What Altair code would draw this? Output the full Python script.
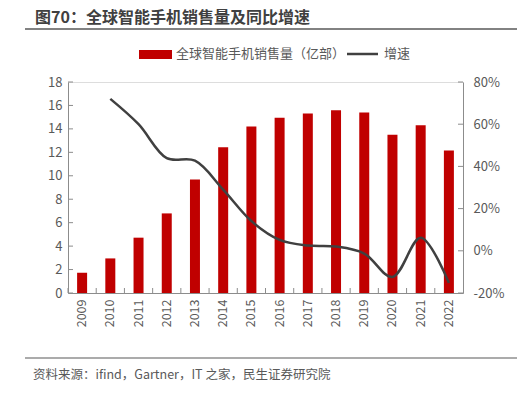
import altair as alt
import pandas as pd

years = [str(y) for y in range(2009, 2023)]
sales = [1.73, 2.95, 4.72, 6.79, 9.69, 12.44, 14.2, 14.95, 15.32, 15.6, 15.4, 13.49, 14.32, 12.15]
growth_years = [str(y) for y in range(2010, 2023)]
growth = [0.72, 0.60, 0.439, 0.427, 0.29, 0.141, 0.052, 0.025, 0.02, -0.013, -0.124, 0.062, -0.152]

left_ticks = [0, 2, 4, 6, 8, 10, 12, 14, 16, 18]
right_ticks = [-0.2, 0, 0.2, 0.4, 0.6, 0.8]
right_ticks_on_left = [0, 3.6, 7.2, 10.8, 14.4, 18]

title_text = "图70：全球智能手机销售量及同比增速"
legend_bar = "全球智能手机销售量（亿部）"
legend_line = "增速"
source_text = "资料来源：ifind，Gartner，IT 之家，民生证券研究院"

W, H = 395, 211
FONT = "Noto Sans CJK SC"
AX = "#8c8c8c"
LAB = "#595959"

df = pd.DataFrame({"year": years, "sales": sales})
dg = pd.DataFrame({"year": growth_years, "growth": growth})
one = pd.DataFrame({"a": [0]})

xaxis = alt.Axis(labelAngle=270, ticks=False, domainColor=AX, domainWidth=1,
                 labelFont=FONT, labelFontSize=12.5, labelColor=LAB,
                 labelPadding=6, labelBaseline="middle", labelAlign="right", title=None)
yaxis = alt.Axis(values=left_ticks, ticks=False, grid=False, domainColor=AX, title=None,
                 labelFont=FONT, labelFontSize=13, labelColor=LAB, labelPadding=6)
yscale = alt.Scale(domain=[0, 18], nice=False, zero=True)

bars = alt.Chart(df).mark_bar(color="#C00000", size=10).encode(
    x=alt.X("year:N", title=None, scale=alt.Scale(paddingInner=0, paddingOuter=0), axis=xaxis),
    y=alt.Y("sales:Q", title=None, scale=yscale, axis=yaxis),
)

lt = alt.Chart(pd.DataFrame({"v": left_ticks})).mark_rule(color=AX, strokeWidth=1).encode(
    y=alt.Y("v:Q", title=None, scale=yscale, axis=yaxis), x=alt.value(0), x2=alt.value(5))
rt = alt.Chart(pd.DataFrame({"v": right_ticks_on_left})).mark_rule(color=AX, strokeWidth=1).encode(
    y=alt.Y("v:Q", title=None, scale=yscale, axis=yaxis), x=alt.value(W - 5), x2=alt.value(W))
xt = alt.Chart(df).mark_rule(color=AX, strokeWidth=1).encode(
    x=alt.X("year:N", bandPosition=0, title=None, axis=xaxis), y=alt.value(H - 5), y2=alt.value(H))

def txt(s, x, y, size, bold=False, color=LAB):
    return alt.Chart(pd.DataFrame({"t": [s]})).mark_text(
        font=FONT, fontSize=size, fontWeight="bold" if bold else "normal", color=color,
        align="left", baseline="middle").encode(text="t:N", x=alt.value(x), y=alt.value(y))

def hline(x1, x2, y, color, w):
    return alt.Chart(one).mark_rule(color=color, strokeWidth=w).encode(
        x=alt.value(x1), x2=alt.value(x2), y=alt.value(y))

title = txt(title_text, -33, -64, 16, True, "#404040")
title_rule = hline(-43, 450, -53, "#595959", 1.5)
leg_rect = alt.Chart(one).mark_rect(color="#C00000").encode(
    x=alt.value(71), x2=alt.value(104), y=alt.value(-32), y2=alt.value(-23))
leg_t1 = txt(legend_bar, 108, -28, 13)
leg_line = hline(279, 310, -28, "#404040", 2.5)
leg_t2 = txt(legend_line, 316, -28, 13)
foot_rule = hline(-43, 452, 276, "#595959", 1.2)
foot = txt(source_text, -35, 293, 12.5)

left = alt.layer(bars, lt, rt, xt, title, title_rule, leg_rect, leg_t1, leg_line, leg_t2, foot_rule, foot)

line = alt.Chart(dg).mark_line(color="#404040", strokeWidth=2.5, interpolate="catmull-rom").encode(
    x=alt.X("year:N", title=None, axis=xaxis),
    y=alt.Y("growth:Q", title=None, scale=alt.Scale(domain=[-0.2, 0.8], nice=False, zero=False),
            axis=alt.Axis(orient="right", values=right_ticks, format=".0%", ticks=False, grid=False,
                          domainColor=AX, labelFont=FONT, labelFontSize=13, labelColor=LAB,
                          labelPadding=10, labelExpr="replace(datum.label, '−', '-')")),
)

chart = alt.layer(left, line).resolve_scale(y="independent").properties(
    width=W, height=H,
    autosize=alt.AutoSizeParams(type="none"),
    padding={"left": 60, "top": 74, "right": 54, "bottom": 96},
).configure_view(stroke=None).configure(background="white")

chart.save("out.html", embed_options={"renderer": "svg", "actions": False})
